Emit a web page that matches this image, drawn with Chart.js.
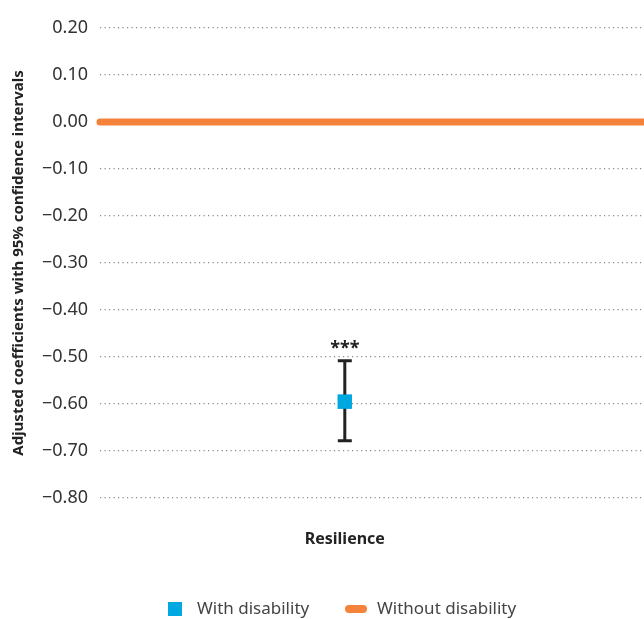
<!DOCTYPE html>
<html>
<head>
<meta charset="utf-8">
<script src="https://cdn.jsdelivr.net/npm/chart.js@4"></script>
<style>
  body { margin: 0; background: #fff; }
  #wrap { width: 644px; height: 619px; }
</style>
</head>
<body>
<div id="wrap"><canvas id="chart" width="644" height="619"></canvas></div>
<script>
// data
const categories = ['Resilience'];
const categoryPos = [0.45];
const withDisability = [-0.595];
const ciLower = [-0.678];
const ciUpper = [-0.508];
const significance = ['***'];
const withoutDisability = [0, 0];
const withoutDisabilityX = [0, 1];
const yTicks = [0.2, 0.1, 0, -0.1, -0.2, -0.3, -0.4, -0.5, -0.6, -0.7, -0.8];

const blue = '#00a8e1';
const orange = '#f5823a';
const textColor = '#333333';
const fontFamily = '"Noto Sans"';

// error bars, stars and the legend
const extras = {
    id: 'extras',
    afterDatasetsDraw(chart) {
        const ctx = chart.ctx;
        const x = chart.scales.x, y = chart.scales.y;
        ctx.save();
        categories.forEach((cat, i) => {
            const px = x.getPixelForValue(categoryPos[i]);
            const top = y.getPixelForValue(ciUpper[i]);
            const bot = y.getPixelForValue(ciLower[i]);
            ctx.strokeStyle = '#222';
            ctx.lineWidth = 3;
            ctx.beginPath();
            ctx.moveTo(px, top); ctx.lineTo(px, bot);
            ctx.moveTo(px - 7, top); ctx.lineTo(px + 7, top);
            ctx.moveTo(px - 7, bot); ctx.lineTo(px + 7, bot);
            ctx.stroke();
            ctx.fillStyle = '#222';
            ctx.font = 'bold 18px ' + fontFamily;
            ctx.textAlign = 'center';
            ctx.textBaseline = 'middle';
            ctx.fillText(significance[i], px, top - 12);
        });
        // point on top of the bar
        chart.getDatasetMeta(0).data.forEach(p => p.draw(ctx));
        ctx.restore();
    },
    afterDraw(chart) {
        const ctx = chart.ctx;
        const cy = 609;
        ctx.save();
        ctx.font = '17px ' + fontFamily;
        ctx.textBaseline = 'middle';
        ctx.textAlign = 'left';
        // with disability
        ctx.fillStyle = blue;
        ctx.fillRect(168, cy - 7, 14, 14);
        ctx.fillStyle = '#444';
        ctx.fillText(chart.data.datasets[0].label, 197, cy);
        // without disability
        ctx.strokeStyle = orange;
        ctx.lineWidth = 8;
        ctx.lineCap = 'round';
        ctx.beginPath();
        ctx.moveTo(349, cy); ctx.lineTo(363, cy);
        ctx.stroke();
        ctx.fillText(chart.data.datasets[1].label, 377, cy);
        ctx.restore();
    }
};

new Chart(document.getElementById('chart'), {
    type: 'scatter',
    data: {
        datasets: [
            {
                label: 'With disability',
                data: categories.map((c, i) => ({ x: categoryPos[i], y: withDisability[i] })),
                backgroundColor: blue,
                borderColor: blue,
                pointStyle: 'rect',
                pointRadius: 10,
                pointHoverRadius: 10,
                borderWidth: 0
            },
            {
                label: 'Without disability',
                data: withoutDisability.map((v, i) => ({ x: withoutDisabilityX[i], y: v })),
                showLine: true,
                clip: false,
                borderColor: orange,
                backgroundColor: orange,
                borderWidth: 7,
                borderCapStyle: 'round',
                pointRadius: 0
            }
        ]
    },
    options: {
        responsive: false,
        animation: false,
        layout: { autoPadding: false, padding: { top: 28, right: 0, bottom: 61, left: 0 } },
        plugins: {
            tooltip: { enabled: false },
            legend: { display: false }
        },
        scales: {
            x: {
                type: 'linear',
                min: 0,
                max: 1,
                afterBuildTicks(axis) { axis.ticks = categoryPos.map(v => ({ value: v })); },
                afterFit(axis) { axis.height = 60; },
                ticks: {
                    padding: 24,
                    color: '#222',
                    font: { family: fontFamily, size: 16, weight: 'bold' },
                    callback: (v, i) => categories[i]
                },
                grid: { display: false },
                border: { display: false }
            },
            y: {
                min: -0.8,
                max: 0.2,
                afterBuildTicks(axis) { axis.ticks = yTicks.map(v => ({ value: v })); },
                afterFit(axis) { axis.width = 100; },
                ticks: {
                    padding: 12,
                    color: textColor,
                    font: { family: fontFamily, size: 18 },
                    callback: v => v.toFixed(2).replace('-', '\u2212')
                },
                grid: {
                    color: '#8a8a8a',
                    lineWidth: 1.2,
                    drawTicks: false
                },
                border: { display: false, dash: [1.2, 3.3] },
                title: {
                    display: true,
                    text: 'Adjusted coefficients with 95% confidence intervals',
                    color: '#222',
                    font: { family: fontFamily, size: 15, weight: 'bold' },
                    padding: { top: 10, bottom: 0 }
                }
            }
        }
    },
    plugins: [extras]
});
</script>
</body>
</html>
